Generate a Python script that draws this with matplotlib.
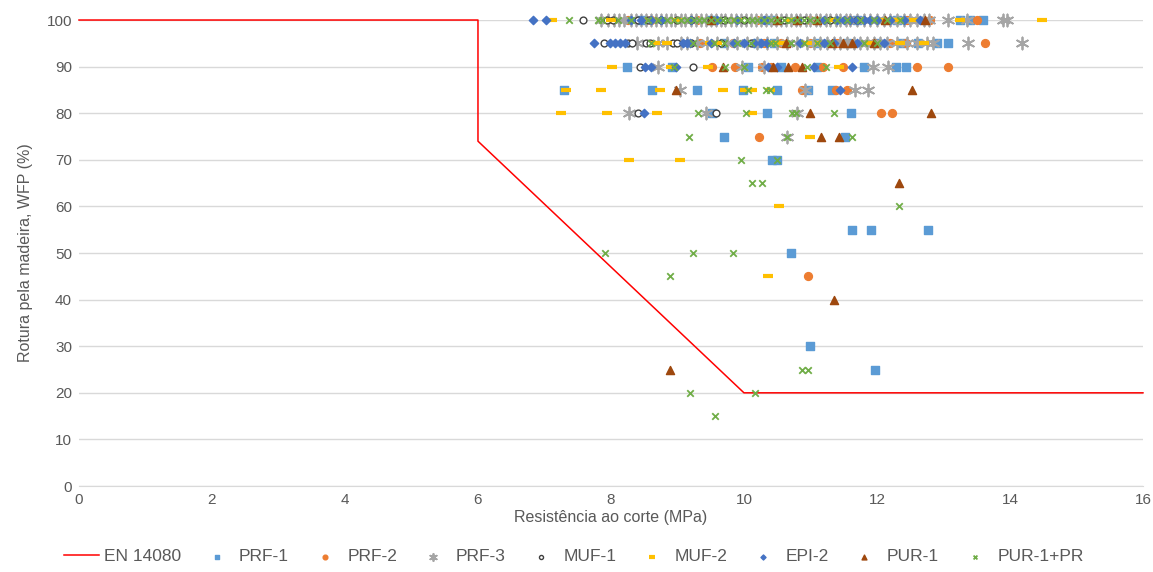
import numpy as np
import matplotlib.pyplot as plt

plt.rcParams['font.family'] = ['Liberation Sans', 'DejaVu Sans']

# limite da norma EN 14080
en_x = [0, 6, 6, 10, 16]
en_y = [100, 100, 74, 20, 20]

# PRF-1
prf1_x = [8.45, 9.5, 10.4, 11.7, 12.3, 13.25, 13.4, 13.6,
          9.7, 10.2, 10.45, 11.1, 11.55, 12.0, 12.38, 12.62, 12.9, 13.07,
          8.24, 8.92, 10.06, 10.55, 11.1, 11.8, 12.29, 12.44,
          7.29, 8.62, 9.29, 9.98, 10.5, 10.96, 11.32,
          9.52, 10.35, 11.61,
          9.7, 11.52,
          10.42, 10.5,
          11.62, 11.91, 12.77,
          10.7, 10.99, 11.97]
prf1_y = [100]*8 + [95]*10 + [90]*8 + [85]*7 + [80]*3 + [75]*2 + [70]*2 + [55]*3 + [50, 30, 25]

# PRF-2
prf2_x = [8.25, 8.6, 9.3, 10.2, 11.0, 11.6, 12.45, 12.8, 13.5,
          9.34, 9.83, 10.3, 10.55, 11.0, 11.4, 11.95, 12.2, 12.44, 13.62,
          9.52, 9.86, 10.27, 10.4, 10.77, 11.19, 11.49, 12.6, 13.07,
          10.87, 11.38, 11.55,
          12.06, 12.23,
          10.23,
          10.96]
prf2_y = [100]*9 + [95]*10 + [90]*9 + [85]*3 + [80]*2 + [75, 45]

# PRF-3
prf3_x = [7.85, 7.95, 8.05, 8.12, 8.2, 8.3, 8.38, 8.45, 8.52, 8.6, 8.68, 8.75,
          8.82, 8.9, 8.97, 9.05, 9.12, 9.2, 9.28, 9.35, 9.43, 9.5, 9.58, 9.65,
          9.72, 9.8, 9.88, 9.95, 10.03, 10.1, 10.18, 10.25, 10.33, 10.4, 10.48,
          10.55, 10.63, 10.7, 10.78, 10.85, 10.93, 11.0, 11.08, 11.15, 11.23,
          11.3, 11.38, 11.45, 11.53, 11.6, 11.7, 11.8, 11.9, 12.0, 12.1, 12.2,
          12.3, 12.4, 12.5, 12.6, 12.7, 12.78, 13.07, 13.35, 13.9, 13.95,
          8.39, 8.7, 8.85, 9.05, 9.15, 9.3, 9.45, 9.6, 9.75, 9.9, 10.05, 10.2,
          10.35, 10.5, 10.65, 10.8, 10.95, 11.05, 11.15, 11.25, 11.35, 11.45,
          11.55, 11.65, 11.75, 11.85, 11.95, 12.05, 12.15, 12.3, 12.45, 12.6,
          12.75, 12.85, 13.37, 14.18,
          8.71, 9.97, 10.3, 11.94, 12.17,
          9.04, 10.92, 11.67, 11.86,
          8.27, 9.43, 10.8,
          10.65]
prf3_y = [100]*66 + [95]*36 + [90]*5 + [85]*4 + [80]*3 + [75]

# MUF-1
muf1_x = [7.58, 7.94, 8.03, 8.4, 8.55, 8.75, 9.0, 9.2, 9.5, 9.7, 10.0, 10.3,
          10.6, 10.9, 11.3, 11.7,
          7.9, 8.26, 8.32, 8.53, 8.59, 8.93, 8.99, 9.2, 9.65, 10.1,
          8.44, 9.23,
          8.41, 9.58]
muf1_y = [100]*16 + [95]*10 + [90]*2 + [80]*2

# MUF-2
muf2_x = [7.11, 8.0, 8.5, 8.65, 9.0, 9.9, 10.7, 11.3, 12.1, 12.3, 12.55, 13.25, 14.48,
          8.66, 8.84, 9.49, 9.6, 10.47, 10.6, 10.95, 11.15, 11.9, 12.35, 12.7,
          8.02, 8.9, 9.46, 11.43,
          7.32, 7.85, 8.74, 9.68, 10.02, 10.12, 10.39,
          7.25, 7.94, 8.69, 10.12,
          11.0,
          8.27, 9.04,
          10.53, 10.36]
muf2_y = [100]*13 + [95]*11 + [90]*4 + [85]*7 + [80]*4 + [75] + [70]*2 + [60, 45]

# EPI-2
epi2_x = [6.83, 7.02, 8.3, 8.45, 8.6, 8.75, 9.2, 9.6, 9.9, 10.3, 10.8, 11.2,
          11.4, 11.5, 11.6, 11.7, 11.8, 11.9, 12.0, 12.2, 12.4, 12.65,
          7.74, 7.98, 8.06, 8.14, 8.21, 9.08, 9.14, 9.19, 9.5, 9.85, 10.0,
          10.15, 10.25, 10.35, 10.85, 11.2, 11.35, 11.7, 12.1,
          8.51, 8.6, 8.98, 10.36, 10.5, 11.05, 11.62,
          11.44,
          8.5]
epi2_y = [100]*22 + [95]*19 + [90]*7 + [85, 80]

# PUR-1
pur1_x = [9.5, 10.5, 10.8, 11.1, 12.12, 12.72,
          10.63, 11.32, 11.49, 11.62, 11.95,
          9.68, 10.44, 10.66, 10.87,
          8.98, 12.53,
          11.0, 12.81,
          11.16, 11.43,
          12.33, 11.35, 8.89]
pur1_y = [100]*6 + [95]*5 + [90]*4 + [85]*2 + [80]*2 + [75]*2 + [65, 40, 25]

# PUR-1+PR
purpr_x = [7.37, 7.8, 7.86, 8.1, 8.3, 8.55, 8.7, 8.85, 8.95, 9.05, 9.15, 9.25,
           9.32, 9.4, 9.5, 9.6, 9.68, 9.75, 9.85, 9.95, 10.05, 10.12, 10.2, 10.3,
           10.4, 10.5, 10.6, 10.7, 10.8, 10.9, 11.0, 11.1, 11.25, 11.4, 11.55,
           11.75, 11.95, 12.15, 12.35,
           8.6, 9.23, 9.55, 9.7, 9.9, 10.1, 10.4, 10.47, 10.7, 10.9, 11.1, 11.3,
           11.8, 12.0,
           8.95, 9.71, 10.0, 10.95, 11.23,
           10.06, 10.33, 10.39,
           9.31, 10.03, 10.72, 10.78, 11.35,
           9.17, 10.65, 11.62,
           9.95, 10.5,
           10.12, 10.27,
           12.33,
           7.91, 9.23, 9.83,
           8.89,
           10.87, 10.96,
           9.19, 10.17,
           9.56]
purpr_y = ([100]*39 + [95]*14 + [90]*5 + [85]*3 + [80]*5 + [75]*3 + [70]*2
           + [65]*2 + [60] + [50]*3 + [45] + [25]*2 + [20]*2 + [15])

fig = plt.figure(figsize=(11.53, 5.72), dpi=100)
ax = fig.add_axes([0.0685, 0.1503, 0.9228, 0.8147])

txt = '#595959'
ax.plot(en_x, en_y, color='#FF0000', lw=1.1, label='EN 14080', zorder=3, clip_on=False)
ax.scatter(prf1_x, prf1_y, marker='s', s=30, color='#5B9BD5', label='PRF-1',
           zorder=4, clip_on=False)
ax.scatter(prf2_x, prf2_y, marker='o', s=32, color='#ED7D31', label='PRF-2',
           zorder=4, clip_on=False)
ax.scatter(prf3_x, prf3_y, marker=(6, 2, 0), s=75, color='#A5A5A5', linewidths=1.3,
           label='PRF-3', zorder=4, clip_on=False)
ax.scatter(muf1_x, muf1_y, marker='o', s=24, facecolors='white', edgecolors='#404040',
           linewidths=1.0, label='MUF-1', zorder=4, clip_on=False)
ax.scatter(muf2_x, muf2_y, marker='_', s=60, color='#FFC000', linewidths=3,
           label='MUF-2', zorder=4, clip_on=False)
ax.scatter(epi2_x, epi2_y, marker='D', s=18, color='#4472C4', label='EPI-2',
           zorder=4, clip_on=False)
ax.scatter(pur1_x, pur1_y, marker='^', s=34, color='#9E480E', label='PUR-1',
           zorder=4, clip_on=False)
ax.scatter(purpr_x, purpr_y, marker='x', s=22, color='#70AD47', linewidths=1.3,
           label='PUR-1+PR', zorder=4, clip_on=False)

ax.set_xlim(0, 16)
ax.set_ylim(0, 100)
ax.set_xticks(np.arange(0, 17, 2))
ax.set_yticks(np.arange(0, 101, 10))
ax.yaxis.grid(True, color='#D9D9D9', lw=1)
ax.set_axisbelow(True)
for s in ['top', 'right', 'left']:
    ax.spines[s].set_visible(False)
ax.spines['bottom'].set_color('#D9D9D9')
ax.tick_params(length=0, labelsize=11, colors=txt, pad=5)
ax.set_xlabel('Resistência ao corte (MPa)', fontsize=11.5, color=txt, labelpad=2)
ax.set_ylabel('Rotura pela madeira, WFP (%)', fontsize=11.5, color=txt, labelpad=10)

ax.legend(loc='center', bbox_to_anchor=(0.465, -0.152), ncol=9, frameon=False,
          fontsize=12.5, labelcolor=txt, handlelength=2.0, columnspacing=1.05,
          markerscale=0.6, handletextpad=0.3, borderaxespad=0)

fig.savefig('out.png', dpi=100)
